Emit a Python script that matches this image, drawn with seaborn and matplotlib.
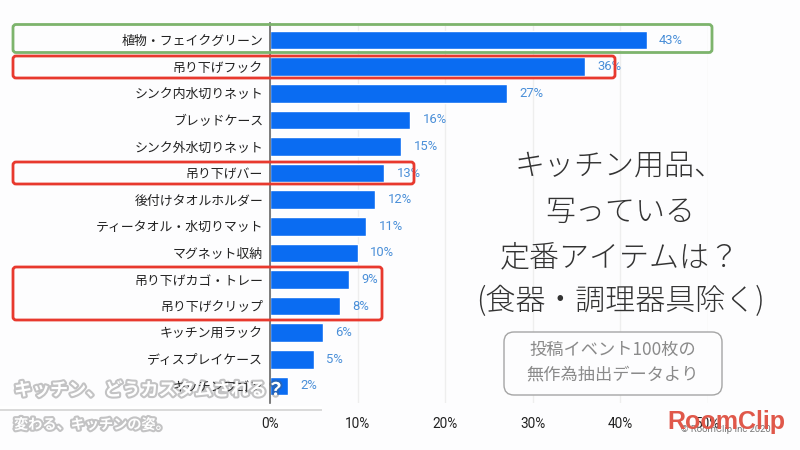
import matplotlib
matplotlib.use("Agg")
import matplotlib.pyplot as plt
import matplotlib.patheffects as pe
from matplotlib.patches import FancyBboxPatch, Rectangle
from matplotlib.transforms import Affine2D
import seaborn as sns
import pandas as pd

categories = ["植物・フェイクグリーン", "吊り下げフック", "シンク内水切りネット", "ブレッドケース",
              "シンク外水切りネット", "吊り下げバー", "後付けタオルホルダー", "ティータオル・水切りマット",
              "マグネット収納", "吊り下げカゴ・トレー", "吊り下げクリップ", "キッチン用ラック",
              "ディスプレイケース", "キッチンワゴン"]
values = [43, 36, 27, 16, 15, 13, 12, 11, 10, 9, 8, 6, 5, 2]
x_ticks = [0, 10, 20, 30, 40, 50]
title_lines = ["キッチン用品、", "写っている", "定番アイテムは？", "(食器・調理器具除く)"]
note_lines = ["投稿イベント100枚の", "無作為抽出データより"]

sns.set_theme(style="white")
plt.rcParams["font.family"] = ["Noto Sans CJK JP", "DejaVu Sans"]
BG = "#fdfdfe"
W, H = 800, 450
LATIN = ["Roboto", "DejaVu Sans"]

fig = plt.figure(figsize=(8, 4.5), dpi=100, facecolor=BG)
ax = fig.add_axes([270 / W, 1 - 403 / H, (708 - 270) / W, (403 - 23) / H], facecolor=BG)

df = pd.DataFrame({"item": categories, "pct": values})
sns.barplot(data=df, x="pct", y="item", orient="y", color="#0a6cf2", saturation=1,
            width=0.7, ax=ax, zorder=3)
ax.set_xlim(0, 50)
ax.set_ylim(13.64, -0.64)
ax.set_xlabel("")
ax.set_ylabel("")
ax.set_xticks(x_ticks)
ax.set_xticklabels([f"{v}%" for v in x_ticks], fontsize=9.8, color="#222222", family=LATIN)
ax.tick_params(axis="x", length=0, pad=10)
ax.tick_params(axis="y", length=0, pad=5)
for lab in ax.get_yticklabels():
    lab.set_fontsize(9.3)
    lab.set_color("#222222")
ax.grid(axis="x", color="#eeeeee", lw=1, zorder=0)
ax.grid(axis="y", visible=False)
for side in ["top", "right", "bottom"]:
    ax.spines[side].set_visible(False)
ax.spines["left"].set_color("#666666")
ax.spines["left"].set_linewidth(1.2)
ax.spines["left"].set_zorder(5)

ax.bar_label(ax.containers[0], labels=[f"{v}%" for v in values], padding=9,
             fontsize=9.4, color="#4a8fd8", family=LATIN, zorder=4)

px = Affine2D().scale(1 / W, -1 / H).translate(0, 1) + fig.transFigure


def box(x0, y0, x1, y1, color, lw=2.0, r=3):
    fig.add_artist(FancyBboxPatch((x0, y0), x1 - x0, y1 - y0,
                                  boxstyle=f"round,pad=0,rounding_size={r}",
                                  transform=px, fc="none", ec=color, lw=lw, zorder=6))


box(13, 24.5, 712, 52.5, "#7db46c")
box(13, 56, 615, 78, "#e8392e")
box(13, 162, 414, 184, "#e8392e")
box(13, 267, 382, 320, "#e8392e")

for line, y in zip(title_lines, [166, 212, 257, 301]):
    fig.text(620 / W, 1 - y / H, line, fontsize=21.6, color="#333333", ha="center", va="center",
             fontweight="light", zorder=7)

fig.add_artist(FancyBboxPatch((504, 332), 218, 63, boxstyle="round,pad=0,rounding_size=10",
                              transform=px, fc=BG, ec="#a5a5a5", lw=1, zorder=6))
for line, y in zip(note_lines, [350, 374]):
    fig.text(613 / W, 1 - y / H, line, fontsize=12.4, color="#8a8a8a", ha="center", va="center",
             zorder=7)

glow = [pe.withStroke(linewidth=3, foreground=(0.35, 0.35, 0.35, 0.35))]
fig.text(14 / W, 1 - 390 / H, "キッチン、どうカスタムされる？", fontsize=13, fontweight="bold",
         color="white", ha="left", va="center", path_effects=glow, zorder=8)
fig.add_artist(Rectangle((0, 408), 322, 3, transform=px, fc="#cccccc", ec="none", alpha=0.7, zorder=8))
fig.add_artist(Rectangle((0, 405.5), 322, 3, transform=px, fc="white", ec="none", zorder=8))
fig.text(14 / W, 1 - 425 / H, "変わる、キッチンの姿。", fontsize=10.2, fontweight="bold",
         color="white", ha="left", va="center", path_effects=glow, zorder=8)

fig.text(726 / W, 1 - 429 / H, "© RoomClip Inc 2020", fontsize=6.8, color="#777777",
         ha="center", va="center", family=LATIN, zorder=8)
fig.text(726 / W, 1 - 422 / H, "RoomClip", fontsize=18, fontweight="bold", color="#e0584a",
         ha="center", va="center", family=["Liberation Sans", "DejaVu Sans"], zorder=9)

fig.savefig("out.png", dpi=100, facecolor=BG)
